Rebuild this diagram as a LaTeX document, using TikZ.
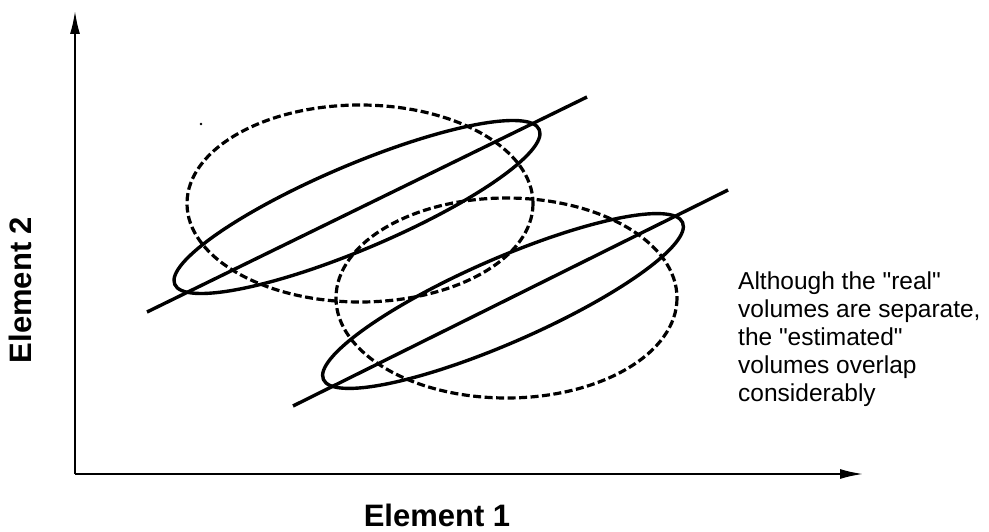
\documentclass[tikz,border=0pt]{standalone}
\usepackage{fontspec}
\setmainfont{Liberation Sans}[Ligatures=TeXOff]
\usetikzlibrary{arrows.meta}
\begin{document}
\begin{tikzpicture}[x=1pt,y=-1pt,
  solidcurve/.style={line width=3.4pt},
  dashcurve/.style={line width=3.2pt, dash pattern=on 8pt off 3.5pt},
  axisline/.style={line width=2.6pt, -{Latex[length=24pt,width=10pt]}},
  axislabel/.style={font=\fontsize{31}{36}\selectfont\bfseries, inner sep=0pt},
  note/.style={font=\fontsize{24.5}{28}\selectfont, anchor=base west, inner sep=0pt}]
\useasboundingbox (0,0) rectangle (989,532);
% axes
\coordinate (origin) at (75,474);
\coordinate (ytop) at (75,10);
\coordinate (xend) at (864,474);
\draw[axisline] (origin) -- (ytop);
\draw[axisline] (origin) -- (xend);
\node[axislabel, rotate=90] (ylab) at (20,290) {Element 2};
\node[axislabel] (xlab) at (437,515) {Element 1};
% stray dot
\fill (201,124) circle (1.3pt);
% upper group
\draw[dashcurve] (360,203.5) ellipse [x radius=173, y radius=98.5];
\draw[solidcurve, rotate around={23:(357,207)}] (357,207) ellipse [x radius=198, y radius=42];
\coordinate (u1) at (147,312);
\coordinate (u2) at (587,97);
\draw[solidcurve] (u1) -- (u2);
% lower group
\draw[dashcurve] (506.5,298) ellipse [x radius=170.5, y radius=100];
\draw[solidcurve, rotate around={23.6:(503,301)}] (503,301) ellipse [x radius=196, y radius=42];
\coordinate (l1) at (293,406);
\coordinate (l2) at (728,190);
\draw[solidcurve] (l1) -- (l2);
% note
\node[note] (t1) at (738,289) {Although the "real"};
\node[note] (t2) at (738,317) {volumes are separate,};
\node[note] (t3) at (738,345) {the "estimated"};
\node[note] (t4) at (738,373) {volumes overlap};
\node[note] (t5) at (738,401) {considerably};
\end{tikzpicture}
\end{document}
